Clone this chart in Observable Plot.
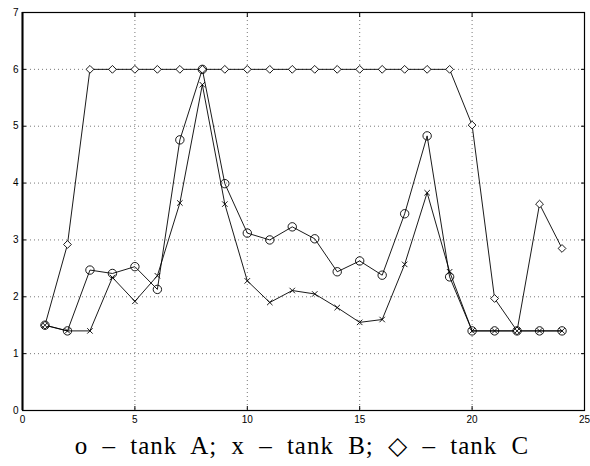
<!DOCTYPE html>
<html>
<head>
<meta charset="utf-8">
<script src="https://cdn.jsdelivr.net/npm/d3@7"></script>
<script src="https://cdn.jsdelivr.net/npm/@observablehq/plot@0.6"></script>
<style>
  body { margin: 0; background: #fff; }
  #caption { width: 590px; padding-left: 14px; box-sizing: border-box; text-align: center; font-family: "Liberation Serif", "DejaVu Serif", serif; font-size: 25px; letter-spacing: 1px; word-spacing: 7px; margin-top: 3px; color: #000; }
</style>
</head>
<body>
<div id="chart"></div>
<div id="caption">o – tank A; x – tank B; ◇ – tank C</div>
<script>
const steps = [1,2,3,4,5,6,7,8,9,10,11,12,13,14,15,16,17,18,19,20,21,22,23,24];
const tankA = [1.5,1.4,2.47,2.41,2.53,2.13,4.76,6.0,3.99,3.12,3.0,3.23,3.02,2.44,2.63,2.38,3.46,4.83,2.35,1.4,1.4,1.4,1.4,1.4];
const tankB = [1.5,1.4,1.4,2.34,1.92,2.37,3.65,5.73,3.63,2.28,1.9,2.11,2.05,1.81,1.55,1.6,2.57,3.83,2.44,1.4,1.4,1.4,1.4,1.4];
const tankC = [1.5,2.92,6,6,6,6,6,6,6,6,6,6,6,6,6,6,6,6,6,5.02,1.97,1.4,3.63,2.85];
const xTicks = [0,5,10,15,20,25];
const yTicks = [0,1,2,3,4,5,6,7];

const A = steps.map((s,i) => ({x: s, y: tankA[i]}));
const B = steps.map((s,i) => ({x: s, y: tankB[i]}));
const C = steps.map((s,i) => ({x: s, y: tankC[i]}));

const chart = Plot.plot({
  width: 590,
  height: 428,
  marginLeft: 22,
  marginRight: 6,
  marginTop: 12,
  marginBottom: 18,
  style: {fontFamily: "'Liberation Sans', Arial, sans-serif", fontSize: "10px", background: "#fff", color: "#000"},
  x: {domain: [0, 25]},
  y: {domain: [0, 7]},
  marks: [
    Plot.gridX(xTicks, {stroke: "#555", strokeOpacity: 1, strokeWidth: 0.8, strokeDasharray: "1,3"}),
    Plot.gridY(yTicks, {stroke: "#555", strokeOpacity: 1, strokeWidth: 0.8, strokeDasharray: "1,3"}),
    Plot.axisX(xTicks, {anchor: "bottom", tickSize: -4, tickPadding: 9, label: null, tickFormat: d => d}),
    Plot.axisX(xTicks, {anchor: "top", tickSize: -4, tickFormat: () => "", label: null}),
    Plot.axisY(yTicks, {anchor: "left", tickSize: -4, tickPadding: 8, label: null, tickFormat: d => d}),
    Plot.axisY(yTicks, {anchor: "right", tickSize: -4, tickFormat: () => "", label: null}),
    Plot.frame({stroke: "#000", strokeWidth: 1.2}),
    Plot.ruleX([0], {stroke: "#000", strokeWidth: 2}),
    Plot.line(C, {x: "x", y: "y", stroke: "#000", strokeWidth: 0.9}),
    Plot.line(A, {x: "x", y: "y", stroke: "#000", strokeWidth: 0.9}),
    Plot.line(B, {x: "x", y: "y", stroke: "#000", strokeWidth: 0.9}),
    Plot.dot(C, {x: "x", y: "y", symbol: "diamond2", r: 3.5, stroke: "#000", fill: "#fff", strokeWidth: 0.9}),
    Plot.dot(A, {x: "x", y: "y", symbol: "circle", r: 4.2, stroke: "#000", fill: "none", strokeWidth: 0.9}),
    Plot.dot(B, {x: "x", y: "y", symbol: "times", r: 2.6, stroke: "#000", strokeWidth: 0.9})
  ]
});
document.getElementById("chart").appendChild(chart);
</script>
</body>
</html>
